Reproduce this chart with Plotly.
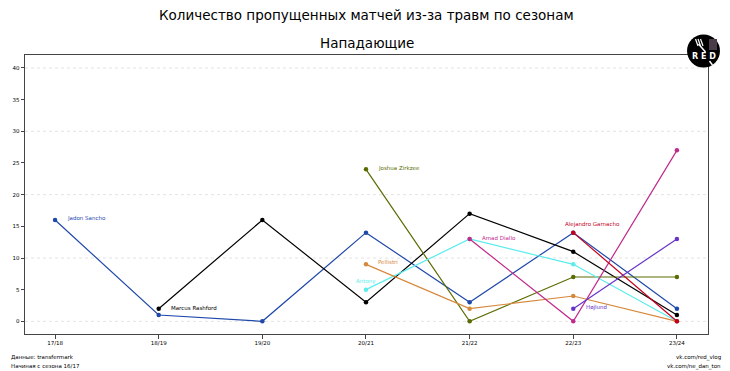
import plotly.graph_objects as go

seasons = ["17/18", "18/19", "19/20", "20/21", "21/22", "22/23", "23/24"]

players = ["Jadon Sancho", "Marcus Rashford", "Joshua Zirkzee", "Antony",
           "Pellistri", "Amad Diallo", "Alejandro Garnacho", "Højlund"]

sancho_x = ["17/18", "18/19", "19/20", "20/21", "21/22", "22/23", "23/24"]
sancho_y = [16, 1, 0, 14, 3, 14, 2]
rashford_x = ["18/19", "19/20", "20/21", "21/22", "22/23", "23/24"]
rashford_y = [2, 16, 3, 17, 11, 1]
zirkzee_x = ["20/21", "21/22", "22/23", "23/24"]
zirkzee_y = [24, 0, 7, 7]
antony_x = ["20/21", "21/22", "22/23", "23/24"]
antony_y = [5, 13, 9, 0]
pellistri_x = ["20/21", "21/22", "22/23", "23/24"]
pellistri_y = [9, 2, 4, 0]
amad_x = ["21/22", "22/23", "23/24"]
amad_y = [13, 0, 27]
garnacho_x = ["22/23", "23/24"]
garnacho_y = [14, 0]
hojlund_x = ["22/23", "23/24"]
hojlund_y = [2, 13]

xs = [sancho_x, rashford_x, zirkzee_x, antony_x, pellistri_x, amad_x, garnacho_x, hojlund_x]
ys = [sancho_y, rashford_y, zirkzee_y, antony_y, pellistri_y, amad_y, garnacho_y, hojlund_y]
colors = ["#1f48aa", "#000000", "#5a6c00", "#5cecec", "#d6893c", "#c02a8c", "#c4001c", "#6634c8"]
# label placement: (xanchor, xshift, yshift)
label_pos = [("left", 10, 1), ("left", 10, 1), ("left", 10, 1), ("center", 0, 8),
             ("left", 10, 2), ("left", 10, 1), ("left", -10, 8), ("left", 11, 1)]

y_ticks = list(range(0, 41, 5))
grid_vals = list(range(0, 41, 10))

fig = go.Figure()
idx = {s: i for i, s in enumerate(seasons)}
for name, x, y, c in zip(players, xs, ys, colors):
    fig.add_trace(go.Scatter(
        x=[idx[s] for s in x], y=y, mode="lines+markers", name=name,
        line=dict(color=c, width=1.2), marker=dict(color=c, size=4.5),
        showlegend=False, hoverinfo="skip"))

for name, x, y, c, (xa, xsft, ysft) in zip(players, xs, ys, colors, label_pos):
    fig.add_annotation(x=idx[x[0]], y=y[0], xref="x", yref="y", text=name,
                       showarrow=False, xanchor=xa, yanchor="middle",
                       xshift=xsft, yshift=ysft,
                       font=dict(size=5.5, color=c, family="DejaVu Sans"))

for g in grid_vals:
    fig.add_shape(type="line", xref="paper", yref="y", x0=0, x1=1, y0=g, y1=g,
                  line=dict(color="#dcdcdc", width=0.8, dash="3px,3px"), layer="below")

L, R, T, B = 23, 22, 55, 37
W, H = 730, 371
pw, ph = W - L - R, H - T - B

def px(x):
    return (x - L) / pw

def py(y):
    return (H - B - y) / ph

fig.add_annotation(x=0.5, y=py(15), xref="paper", yref="paper",
                   text="Количество пропущенных матчей из-за травм по сезонам",
                   showarrow=False, xanchor="center", yanchor="middle",
                   font=dict(size=13.5, color="black", family="DejaVu Sans"))
fig.add_annotation(x=0.5, y=py(43), xref="paper", yref="paper", text="Нападающие",
                   showarrow=False, xanchor="center", yanchor="middle",
                   font=dict(size=13.5, color="black", family="DejaVu Sans"))

foot = dict(size=5.5, color="black", family="DejaVu Sans")
fig.add_annotation(x=px(7), y=py(357), xref="paper", yref="paper", text="Данные: transfermark",
                   showarrow=False, xanchor="left", yanchor="middle", font=foot)
fig.add_annotation(x=px(7), y=py(366), xref="paper", yref="paper", text="Начиная с сезона 16/17",
                   showarrow=False, xanchor="left", yanchor="middle", font=foot)
fig.add_annotation(x=px(723), y=py(357), xref="paper", yref="paper", text="vk.com/red_vlog",
                   showarrow=False, xanchor="right", yanchor="middle", font=foot)
fig.add_annotation(x=px(723), y=py(366), xref="paper", yref="paper", text="vk.com/ne_dan_ton",
                   showarrow=False, xanchor="right", yanchor="middle", font=foot)

# logo
cx, cy, r = 703.5, 51, 16.5
fig.add_shape(type="circle", xref="paper", yref="paper",
              x0=px(cx - r), x1=px(cx + r), y0=py(cy + r), y1=py(cy - r),
              fillcolor="black", line=dict(color="black", width=0), layer="above")
fig.add_shape(type="rect", xref="paper", yref="paper",
              x0=px(709), x1=px(717), y0=py(50), y1=py(39),
              fillcolor="#4a3c48", line=dict(width=0), layer="above")
for dx in (-8, -5.5, -3):
    fig.add_shape(type="line", xref="paper", yref="paper",
                  x0=px(cx + dx), x1=px(cx + dx + 2.5), y0=py(39), y1=py(46),
                  line=dict(color="white", width=1.2), layer="above")
fig.add_shape(type="line", xref="paper", yref="paper",
              x0=px(cx - 5), x1=px(cx + 2), y0=py(44), y1=py(52),
              line=dict(color="white", width=1.5), layer="above")
fig.add_shape(type="line", xref="paper", yref="paper",
              x0=px(cx + 6), x1=px(cx + 9), y0=py(61), y1=py(65),
              line=dict(color="white", width=1.5), layer="above")
fig.add_annotation(x=px(cx), y=py(57), xref="paper", yref="paper", text="<b>R E D</b>",
                   showarrow=False, xanchor="center", yanchor="middle",
                   font=dict(size=8, color="white", family="DejaVu Sans"))

fig.update_layout(
    width=W, height=H, margin=dict(l=L, r=R, t=T, b=B),
    paper_bgcolor="white", plot_bgcolor="white",
    xaxis=dict(range=[-0.29, 6.3], tickmode="array", tickvals=list(range(len(seasons))),
               ticktext=seasons, showgrid=False, zeroline=False,
               showline=True, linecolor="#444", linewidth=1, mirror=True,
               ticks="outside", ticklen=3.5, tickcolor="#444", tickwidth=0.8,
               tickfont=dict(size=5.5, color="black", family="DejaVu Sans")),
    yaxis=dict(range=[-2, 42.05], tickmode="array", tickvals=y_ticks,
               showgrid=False, zeroline=False,
               showline=True, linecolor="#444", linewidth=1, mirror=True,
               ticks="outside", ticklen=3.5, tickcolor="#444", tickwidth=0.8,
               tickfont=dict(size=5.5, color="black", family="DejaVu Sans")),
)

fig.write_html("out.html", config={"displayModeBar": False},
               post_script="document.body.style.margin='0';document.body.style.overflow='hidden';")
